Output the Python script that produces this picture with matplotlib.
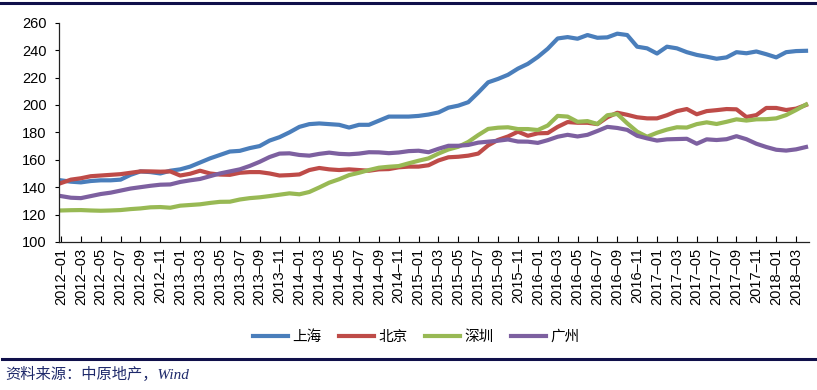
import matplotlib
matplotlib.use("Agg")
import matplotlib.pyplot as plt
from matplotlib.lines import Line2D

plt.rcParams['font.family'] = ['Liberation Sans', 'Noto Sans CJK SC', 'DejaVu Sans']

months = [f"{y}-{m:02d}" for y in range(2012, 2019) for m in range(1, 13)][:76]
tick_labels = [m.replace("-", "–") for m in months]

shanghai = [145, 144, 143.5, 144.5, 145, 145, 145.5, 149, 151.5, 151, 150, 152,
            153, 155, 158, 161, 163.5, 166, 166.5, 168.5, 170, 174, 176.5, 180,
            184, 186, 186.5, 186, 185.5, 183.5, 185.5, 185.5, 188.5, 191.5, 191.5, 191.5,
            192, 193, 194.5, 198, 199.5, 202, 209, 216.5, 219, 222, 226.5, 230,
            235, 241, 248.5, 249.5, 248.3, 251, 249, 249.3, 252, 251, 242.5, 241.3,
            237.5, 242.5, 241.3, 238.5, 236.5, 235.2, 233.7, 234.7, 238.5, 237.7, 239, 237,
            234.7, 238.5, 239.3, 239.5]
beijing = [143, 145.5, 146.5, 148, 148.5, 149, 149.5, 150.5, 151.5, 151.5, 151.3, 151.5,
           148.5, 149.8, 152, 150, 149.2, 149, 150.5, 151, 151, 150, 148.5, 148.8,
           149.3, 152.5, 154, 153, 152.5, 153, 152.5, 152, 153, 153.2, 154.5, 155,
           155, 156, 159.5, 161.8, 162.2, 163, 164.5, 170.5, 174.5, 177, 180.5, 177.5,
           179.3, 179.5, 184, 187.5, 187, 187, 186, 191, 194.3, 192.8, 191, 190.2,
           190.2, 192.5, 195.5, 197, 193.2, 195.5, 196.2, 197, 196.8, 191.2, 192.6, 197.8,
           197.8, 196.3, 197.3, 200]
shenzhen = [123, 123.2, 123.3, 123, 122.8, 123, 123.3, 124, 124.5, 125.3, 125.5, 125,
            126.5, 127, 127.5, 128.5, 129.3, 129.4, 131, 132, 132.6, 133.5, 134.5, 135.5,
            134.8, 136.5, 139.8, 143.3, 145.8, 148.8, 150.5, 152.5, 154.2, 154.9, 155.4, 157.4,
            159.3, 161, 164.5, 167.5, 169.5, 173, 178, 182.5, 183.4, 183.7, 182.4, 182.4,
            181.7, 185, 192, 191.5, 187.7, 188.2, 186.1, 192.5, 193.4, 186.6, 180.5, 176.8,
            179.7, 182, 183.7, 183.5, 186, 187.3, 186.1, 187.7, 189.5, 188.6, 189.5, 189.6,
            190.2, 192.6, 196.3, 200.3]
guangzhou = [133.5, 132.3, 132, 133.5, 135, 136, 137.5, 139, 140, 141, 141.8, 142,
             143.8, 145, 146, 148, 150, 151.5, 153, 155.5, 158.5, 162, 164.5, 164.7,
             163.5, 163, 164.3, 165.2, 164.3, 164, 164.5, 165.5, 165.4, 164.8, 165.3, 166.3,
             166.6, 165.5, 168, 170.2, 170.2, 170.8, 172.5, 173.2, 173.9, 174.8, 173.3, 173.2,
             172.3, 174.3, 176.8, 178.2, 177, 178.2, 181, 184, 183.2, 181.8, 177.5, 175.6,
             174, 174.9, 175.1, 175.3, 171.7, 174.9, 174.4, 175, 177.2, 175, 171.7, 169.3,
             167.3, 166.7, 167.6, 169.3]

series = [("上海", shanghai, "#4A7EBB"),
          ("北京", beijing, "#BE4B48"),
          ("深圳", shenzhen, "#98B954"),
          ("广州", guangzhou, "#7D60A0")]

fig = plt.figure(figsize=(8.17, 3.90), dpi=100)
ax = fig.add_axes([59 / 817, 1 - 242 / 390, 750 / 817, (242 - 22.7) / 390])

x = list(range(len(months)))
for name, vals, col in series:
    ax.plot(x, vals, color=col, lw=3.0, label=name, solid_joinstyle='round')

ax.set_ylim(100, 260)
ax.set_yticks(range(100, 261, 20))
ax.set_xlim(-0.2, 75.3)
ax.set_xticks(x[::2])
ax.set_xticklabels(tick_labels[::2], rotation=90, fontsize=10.5)
ax.tick_params(axis='x', direction='in', length=4, width=0.8, pad=4)
ax.tick_params(axis='y', direction='out', length=3, width=0.8, labelsize=10.5, pad=6)
for s in ['top', 'right']:
    ax.spines[s].set_visible(False)
for s in ['left', 'bottom']:
    ax.spines[s].set_linewidth(0.9)
    ax.spines[s].set_color('#222222')

leg = fig.legend(loc='center', bbox_to_anchor=(416 / 817, 1 - 337 / 390), ncol=4,
                 frameon=False, handlelength=2.4, handletextpad=0.3, columnspacing=1.2,
                 prop={'family': ['Noto Sans CJK SC'], 'size': 10.5})

navy = "#10104A"
fig.add_artist(Line2D([0, 1], [1 - 3 / 390, 1 - 3 / 390], color=navy, lw=2.2,
                      transform=fig.transFigure))
fig.add_artist(Line2D([2 / 817, 1], [1 - 359 / 390, 1 - 359 / 390], color=navy, lw=2.2,
                      transform=fig.transFigure))
fig.text(5 / 817, 1 - 374 / 390, "资料来源：中原地产，Wind", ha='left', va='center',
         fontsize=11, style='italic', color="#1F2A6B",
         family=['Liberation Serif', 'Noto Sans CJK SC'])

fig.savefig("out.png", dpi=100)
